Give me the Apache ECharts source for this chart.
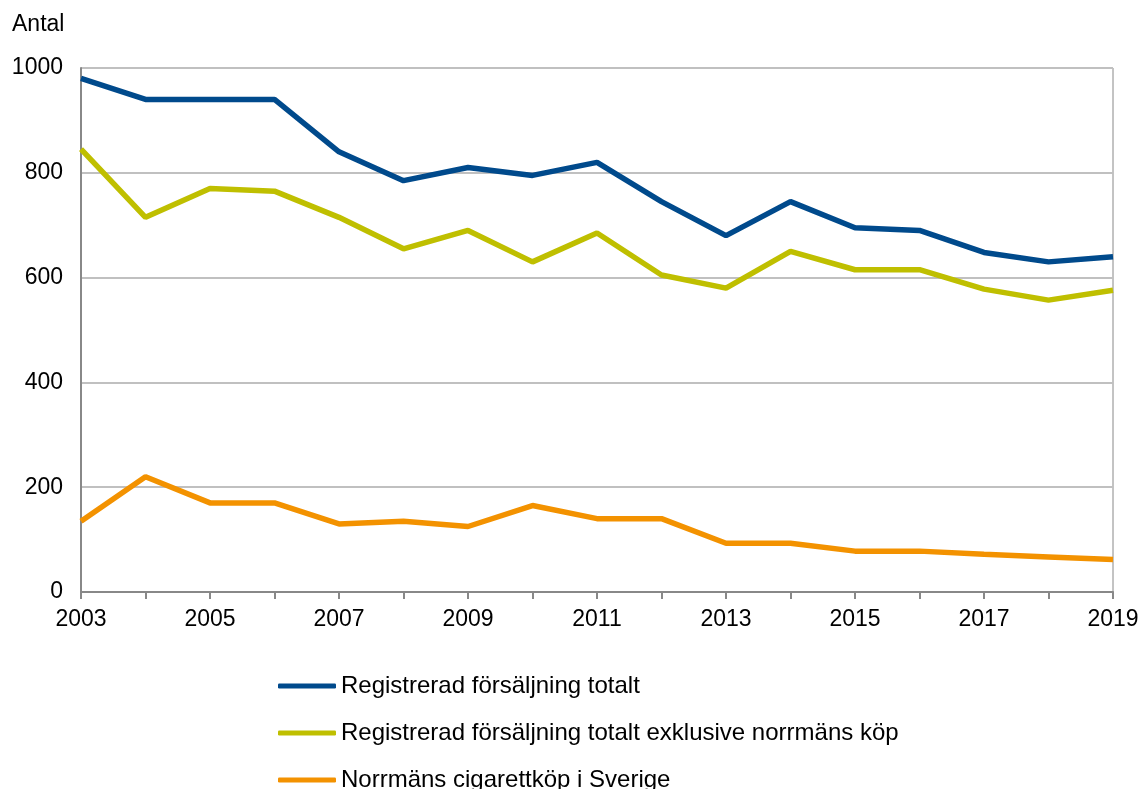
<!DOCTYPE html>
<html>
<head>
<meta charset="utf-8">
<script src="https://cdn.jsdelivr.net/npm/echarts@6/dist/echarts.min.js"></script>
<style>
  html, body { margin: 0; padding: 0; background: #fff; }
  #chart { width: 1142px; height: 789px; }
</style>
</head>
<body>
<div id="chart"></div>
<script>
// years on the x axis
let years = ['2003','2004','2005','2006','2007','2008','2009','2010','2011','2012','2013','2014','2015','2016','2017','2018','2019']
// registrerad försäljning totalt
let totalt = [980, 940, 940, 940, 840, 785, 810, 795, 820, 745, 680, 745, 695, 690, 648, 630, 640]
// registrerad försäljning totalt exklusive norrmäns köp
let exklNorrman = [845, 715, 770, 765, 715, 655, 690, 630, 685, 605, 580, 650, 615, 615, 578, 557, 576]
// norrmäns cigarettköp i Sverige
let norrman = [135, 220, 170, 170, 130, 135, 125, 165, 140, 140, 93, 93, 78, 78, 72, 67, 62]
let seriesNames = ['Registrerad försäljning totalt', 'Registrerad försäljning totalt exklusive norrmäns köp', 'Norrmäns cigarettköp i Sverige']
let colors = ['#004a8c', '#bfbf00', '#f39200']

let chart = echarts.init(document.getElementById('chart'))
let font = 'Liberation Sans, Arial, sans-serif'
let fs = 23

function lineSeries(name, data, color) {
  return {
    name: name,
    type: 'line',
    data: data,
    showSymbol: false,
    symbol: 'none',
    lineStyle: { width: 5.5, color: color },
    itemStyle: { color: color },
    animation: false
  }
}

let option = {
  animation: false,
  textStyle: { fontFamily: font },
  grid: {
    left: 81, right: 29, top: 68, bottom: 197,
    show: true, borderColor: '#888', borderWidth: 1
  },
  legend: {
    orient: 'vertical',
    left: 278, top: 674,
    height: 200,
    padding: 0,
    icon: 'roundRect',
    itemWidth: 58, itemHeight: 5,
    itemGap: 23,
    textStyle: { fontSize: 24, color: '#000', fontFamily: font },
    data: seriesNames
  },
  xAxis: {
    type: 'category',
    data: years,
    boundaryGap: false,
    axisLine: { lineStyle: { color: '#888', width: 2 } },
    axisTick: { show: true, interval: 0, length: 7, lineStyle: { color: '#888', width: 2 } },
    axisLabel: { interval: 1, color: '#000', fontSize: fs, margin: 16, fontFamily: font },
    splitLine: { show: false }
  },
  yAxis: {
    type: 'value',
    min: 0, max: 1000, interval: 200,
    name: 'Antal',
    nameLocation: 'end',
    nameGap: 32,
    nameTextStyle: { fontSize: fs, color: '#000', align: 'left', padding: [0, 0, 0, -69], fontFamily: font },
    axisLine: { show: true, lineStyle: { color: '#888', width: 2 } },
    axisTick: { show: false },
    axisLabel: { color: '#000', fontSize: fs, margin: 18, fontFamily: font, formatter: function (v) { return String(v) } },
    splitLine: { lineStyle: { color: '#c0c0c0', width: 2 } }
  },
  series: [
    lineSeries(seriesNames[0], totalt, colors[0]),
    lineSeries(seriesNames[1], exklNorrman, colors[1]),
    lineSeries(seriesNames[2], norrman, colors[2])
  ]
}
option && chart.setOption(option)
</script>
</body>
</html>
